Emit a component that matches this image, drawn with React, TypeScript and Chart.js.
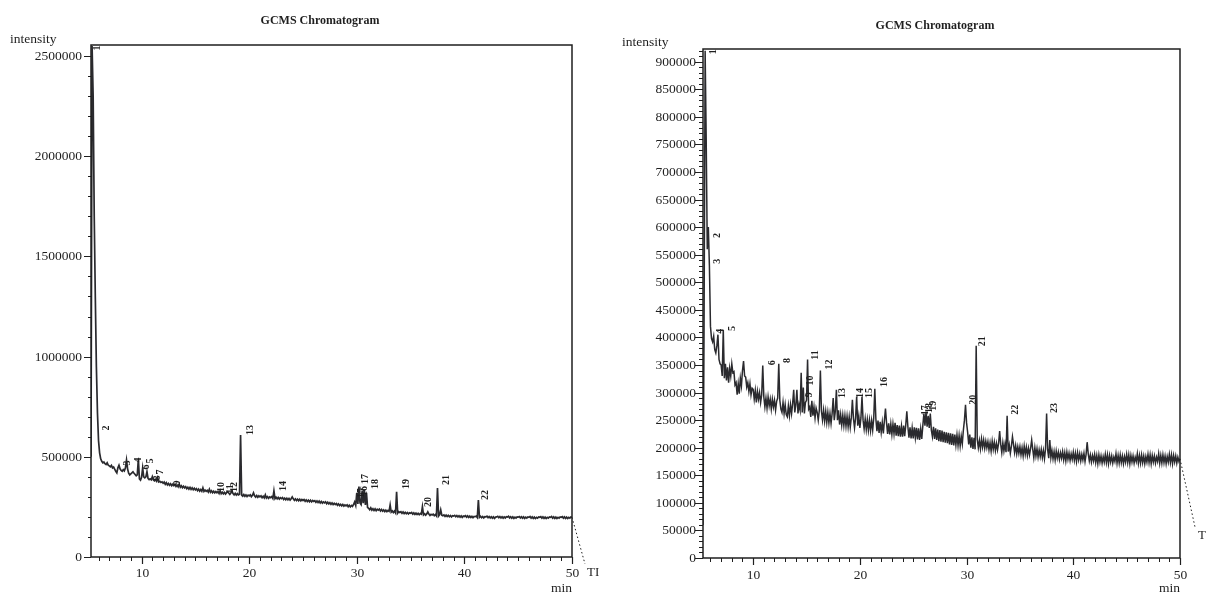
import React, { useEffect, useRef } from "react";
import { Chart, registerables } from "chart.js";
Chart.register(...registerables);

// ---- data (intensity in thousands, sampled every 0.1 min from 5.3 min) ----
const TRACE_START_MIN = 5.3;
const TRACE_STEP_MIN = 0.1;
const X_MIN = 5.3;
const X_MAX = 50;

const leftIntensityK = [
  500, 2550, 2300, 1700, 1300, 950, 720,
  580, 520, 490, 478, 470, 474, 466, 462, 470, 458,
  455, 450, 457, 445, 449, 438, 428, 420, 445, 458,
  440, 432, 428, 436, 430, 445, 484, 440, 418, 410,
  415, 420, 425, 418, 412, 405, 410, 487, 390, 384,
  398, 444, 400, 395, 400, 426, 392, 386, 390, 385,
  401, 384, 380, 386, 378, 395, 375, 378, 372, 375,
  368, 374, 363, 371, 360, 367, 358, 365, 356, 363,
  356, 362, 352, 359, 350, 364, 348, 355, 346, 353,
  345, 351, 341, 348, 339, 347, 337, 345, 336, 343,
  335, 341, 331, 339, 329, 337, 328, 345, 327, 334,
  328, 333, 324, 338, 323, 330, 321, 328, 320, 327,
  321, 326, 317, 332, 316, 323, 315, 322, 314, 321,
  326, 319, 312, 319, 330, 317, 310, 318, 309, 316,
  310, 313, 609, 309, 304, 312, 303, 310, 302, 309,
  305, 310, 301, 308, 320, 305, 299, 307, 298, 305,
  300, 305, 296, 303, 295, 310, 294, 301, 293, 300,
  296, 301, 292, 330, 291, 298, 290, 297, 289, 296,
  291, 296, 287, 294, 286, 293, 285, 292, 284, 291,
  300, 290, 283, 290, 282, 289, 281, 288, 280, 287,
  282, 287, 278, 285, 277, 284, 276, 283, 275, 282,
  277, 281, 273, 280, 272, 279, 270, 277, 269, 275,
  270, 275, 266, 273, 265, 271, 263, 270, 262, 268,
  262, 267, 258, 265, 257, 263, 255, 262, 254, 260,
  255, 260, 251, 258, 250, 257, 252, 262, 275, 258,
  320, 265, 351, 270, 262, 330, 268, 335, 260, 320,
  248, 243, 236, 245, 234, 241, 232, 240, 231, 238,
  234, 239, 230, 237, 229, 235, 227, 234, 226, 232,
  228, 260, 224, 230, 222, 229, 220, 326, 219, 226,
  222, 226, 218, 225, 217, 223, 216, 222, 215, 221,
  218, 222, 214, 220, 213, 219, 212, 218, 211, 217,
  214, 251, 210, 216, 209, 215, 225, 214, 207, 213,
  210, 214, 206, 212, 205, 344, 204, 211, 235, 209,
  206, 210, 203, 209, 202, 208, 201, 207, 200, 206,
  204, 208, 201, 207, 200, 206, 199, 205, 198, 204,
  202, 206, 199, 205, 198, 204, 197, 203, 196, 202,
  201, 204, 197, 284, 198, 203, 196, 202, 195, 201,
  200, 204, 196, 202, 195, 201, 194, 200, 193, 199,
  200, 203, 196, 202, 195, 201, 194, 200, 195, 201,
  199, 203, 195, 201, 194, 200, 193, 199, 194, 200,
  199, 202, 195, 201, 194, 200, 193, 199, 194, 200,
  198, 202, 194, 200, 193, 199, 192, 198, 194, 200,
  198, 201, 194, 200, 193, 199, 192, 198, 194, 200,
  198, 202, 194, 200, 193, 199, 192, 198, 194, 200,
  198, 201, 194, 200, 193, 199, 192, 198, 194, 200,
  198,
];

const rightIntensityK = [
  60, 420, 920, 760, 560, 600, 530,
  420, 398, 392, 402, 378, 372, 385, 405, 360, 352,
  350, 330, 414, 326, 352, 322, 346, 318, 344, 330,
  352, 336, 338, 314, 318, 296, 316, 298, 326, 312,
  340, 357, 330, 328, 310, 318, 302, 316, 296, 308,
  306, 288, 304, 282, 302, 288, 300, 282, 296, 349,
  292, 274, 290, 272, 292, 276, 288, 270, 288, 274,
  286, 268, 284, 290, 352, 286, 270, 264, 282, 262,
  278, 260, 256, 276, 258, 278, 262, 280, 305, 264,
  278, 305, 262, 278, 268, 336, 264, 309, 262, 282,
  286, 360, 270, 274, 256, 285, 258, 274, 254, 272,
  264, 250, 268, 340, 266, 250, 268, 248, 266, 246,
  264, 245, 262, 244, 262, 290, 250, 266, 305, 250,
  268, 242, 260, 241, 259, 240, 258, 239, 257, 238,
  256, 237, 255, 287, 253, 236, 254, 293, 240, 257,
  236, 254, 293, 250, 234, 252, 233, 251, 232, 250,
  231, 249, 232, 254, 307, 252, 230, 249, 227, 247,
  228, 246, 226, 249, 271, 245, 225, 244, 224, 243,
  224, 243, 225, 245, 222, 241, 221, 240, 220, 239,
  220, 240, 221, 241, 266, 238, 218, 237, 217, 236,
  217, 237, 218, 236, 215, 235, 214, 234, 216, 240,
  262, 240, 265, 238, 258, 236, 262, 232, 220, 238,
  216, 235, 214, 233, 212, 232, 211, 231, 210, 229,
  209, 228, 208, 227, 206, 226, 205, 225, 204, 224,
  205, 223, 204, 222, 203, 221, 207, 232, 250, 278,
  245, 228, 206, 224, 200, 219, 198, 218, 197, 385,
  215, 200, 213, 198, 216, 201, 214, 199, 212, 200,
  211, 196, 209, 194, 212, 197, 210, 195, 208, 196,
  208, 230, 206, 191, 209, 194, 207, 192, 258, 193,
  205, 190, 203, 220, 206, 191, 204, 189, 202, 190,
  202, 187, 200, 185, 203, 188, 201, 186, 199, 187,
  199, 214, 197, 182, 200, 185, 198, 183, 196, 184,
  197, 182, 195, 180, 198, 262, 196, 181, 214, 182,
  195, 180, 193, 178, 194, 181, 192, 179, 191, 181,
  193, 178, 191, 176, 192, 179, 190, 177, 189, 179,
  192, 177, 190, 175, 191, 178, 189, 176, 188, 178,
  190, 175, 188, 210, 189, 176, 187, 174, 186, 176,
  188, 173, 186, 171, 187, 174, 185, 172, 184, 174,
  188, 173, 187, 171, 186, 174, 185, 172, 183, 175,
  189, 172, 186, 172, 187, 173, 185, 171, 184, 174,
  188, 173, 187, 171, 186, 174, 185, 172, 183, 175,
  189, 172, 186, 172, 187, 173, 185, 171, 184, 174,
  188, 173, 187, 171, 186, 174, 185, 172, 183, 175,
  189, 172, 186, 172, 187, 173, 185, 171, 184, 174,
  188, 173, 187, 171, 186, 174, 185, 172, 183, 175,
  180,
];

const leftYTicks = [0, 500000, 1000000, 1500000, 2000000, 2500000];
const rightYTicks = [
  0, 50000, 100000, 150000, 200000, 250000, 300000, 350000, 400000, 450000,
  500000, 550000, 600000, 650000, 700000, 750000, 800000, 850000, 900000,
];
const xTicks = [10, 20, 30, 40, 50];

const leftPeakNames = ["1", "2", "3", "4", "5", "6", "7", "8", "9", "10", "11", "12", "13", "14", "15", "16", "17", "18", "19", "20", "21", "22"];
const leftPeakLabelTimes = [5.86, 6.7, 8.65, 9.67, 10.79, 10.42, 11.72, 11.44, 13.3, 17.4, 18.23, 18.6, 20.1, 23.16, 30.4, 30.7, 30.8, 31.7, 34.6, 36.7, 38.3, 42.0];
const leftPeakLabelIntensity = [2540000, 644000, 469000, 484000, 479000, 449000, 424000, 394000, 369000, 349000, 339000, 349000, 634000, 354000, 319000, 329000, 389000, 364000, 364000, 274000, 384000, 309000];

const rightPeakNames = ["1", "2", "3", "4", "5", "6", "8", "9", "10", "11", "12", "13", "14", "15", "16", "17", "18", "19", "20", "21", "22", "23"];
const rightPeakLabelTimes = [6.23, 6.63, 6.63, 6.94, 8.03, 11.78, 13.24, 15.3, 15.4, 15.83, 17.17, 18.33, 20.05, 20.9, 22.3, 26.1, 26.5, 26.9, 30.6, 31.44, 34.56, 38.2];
const rightPeakLabelIntensity = [918000, 585000, 538000, 411000, 416000, 354000, 358000, 296000, 322000, 368000, 351000, 299000, 299000, 299000, 319000, 268000, 272000, 276000, 287000, 393000, 269000, 272000];

const TITLE = "GCMS Chromatogram";
const Y_LABEL = "intensity";
const X_LABEL = "min";

// ---- styles ----
const INK = "#1f1f1f";
const LINE = "#2a2a2e";
const SERIF = "'Liberation Serif', 'DejaVu Serif', serif";

function toPoints(valuesK: number[]) {
  return valuesK.map((v, i) => ({
    x: Math.round((TRACE_START_MIN + i * TRACE_STEP_MIN) * 100) / 100,
    y: v * 1000,
  }));
}

function buildLabels(names: string[], times: number[], vals: number[]) {
  return names.map((n, i) => ({ text: n, t: times[i], v: vals[i] }));
}

type Decor = {
  padding: { left: number; right: number; top: number; bottom: number };
  yTicks: number[];
  yMinorStep: number;
  yMajorLen: number;
  yMinorLen: number;
  yLabelGap: number;
  xLabelOffset: number;
  title: { x: number; y: number };
  yTitle: { x: number; y: number };
  xTitleY: number;
  lineWidth: number;
  tic: { text: string; toX: number; toY: number; textX: number; textY: number };
};

function decorPlugin(d: Decor, labels: { text: string; t: number; v: number }[]) {
  return {
    id: "chromDecor",
    afterDraw(chart: any) {
      const { ctx, chartArea: a } = chart;
      const x = chart.scales.x;
      const y = chart.scales.y;
      ctx.save();
      ctx.strokeStyle = INK;
      ctx.fillStyle = INK;

      // frame
      ctx.lineWidth = 1.5;
      ctx.beginPath();
      ctx.moveTo(a.left, a.bottom);
      ctx.lineTo(a.left, a.top);
      ctx.lineTo(a.right, a.top);
      ctx.lineTo(a.right, a.bottom);
      ctx.closePath();
      ctx.stroke();

      // y minor ticks
      ctx.lineWidth = 1;
      ctx.beginPath();
      for (let v = 0; v <= y.max; v += d.yMinorStep) {
        const py = Math.round(y.getPixelForValue(v)) + 0.5;
        ctx.moveTo(a.left - d.yMinorLen, py);
        ctx.lineTo(a.left, py);
      }
      // x minor ticks
      for (let t = Math.ceil(x.min); t <= x.max; t += 1) {
        const px = Math.round(x.getPixelForValue(t)) + 0.5;
        ctx.moveTo(px, a.bottom);
        ctx.lineTo(px, a.bottom + 4);
      }
      ctx.stroke();

      // y major ticks + labels
      ctx.lineWidth = 1.2;
      ctx.font = `13.5px ${SERIF}`;
      ctx.textAlign = "right";
      ctx.textBaseline = "middle";
      ctx.beginPath();
      for (const v of d.yTicks) {
        const py = Math.round(y.getPixelForValue(v)) + 0.5;
        ctx.moveTo(a.left - d.yMajorLen, py);
        ctx.lineTo(a.left, py);
        ctx.fillText(String(v), a.left - d.yLabelGap, py);
      }
      // x major ticks + labels
      ctx.textAlign = "center";
      for (const t of xTicks) {
        const px = Math.round(x.getPixelForValue(t)) + 0.5;
        ctx.moveTo(px, a.bottom);
        ctx.lineTo(px, a.bottom + 7);
        ctx.fillText(String(t), px, a.bottom + d.xLabelOffset);
      }
      ctx.stroke();

      // axis titles
      ctx.textAlign = "left";
      ctx.fillText(Y_LABEL, d.yTitle.x, d.yTitle.y);
      ctx.textAlign = "right";
      ctx.fillText(X_LABEL, a.right, d.xTitleY);

      // chart title
      ctx.font = `bold 12px ${SERIF}`;
      ctx.textAlign = "center";
      ctx.fillText(TITLE, d.title.x, d.title.y);

      // TIC marker
      const ds = chart.data.datasets[0].data;
      const last = ds[ds.length - 1];
      const lx = x.getPixelForValue(last.x);
      const ly = y.getPixelForValue(last.y);
      ctx.lineWidth = 1;
      ctx.setLineDash([1.5, 2.5]);
      ctx.beginPath();
      ctx.moveTo(lx, ly);
      ctx.lineTo(d.tic.toX, d.tic.toY);
      ctx.stroke();
      ctx.setLineDash([]);
      ctx.font = `13px ${SERIF}`;
      ctx.textAlign = "left";
      ctx.fillText(d.tic.text, d.tic.textX, d.tic.textY);

      // peak labels (vertical)
      ctx.font = `bold 10px ${SERIF}`;
      ctx.textAlign = "center";
      ctx.textBaseline = "middle";
      for (const l of labels) {
        const px = x.getPixelForValue(l.t);
        const py = y.getPixelForValue(l.v);
        ctx.save();
        ctx.translate(px, py);
        ctx.rotate(-Math.PI / 2);
        ctx.fillText(l.text, 0, 0);
        ctx.restore();
      }
      ctx.restore();
    },
  };
}

function ChromChart(props: {
  valuesK: number[];
  yMax: number;
  labels: { text: string; t: number; v: number }[];
  decor: Decor;
}) {
  const ref = useRef<HTMLCanvasElement>(null);
  useEffect(() => {
    const chart = new Chart(ref.current as HTMLCanvasElement, {
      type: "line",
      data: {
        datasets: [
          {
            data: toPoints(props.valuesK),
            borderColor: LINE,
            borderWidth: props.decor.lineWidth,
            pointRadius: 0,
            tension: 0,
            fill: false,
          },
        ],
      },
      options: {
        responsive: false,
        maintainAspectRatio: false,
        animation: false,
        events: [],
        layout: { padding: props.decor.padding },
        plugins: {
          legend: { display: false },
          tooltip: { enabled: false },
          title: { display: false },
        },
        scales: {
          x: { type: "linear", min: X_MIN, max: X_MAX, display: false },
          y: { type: "linear", min: 0, max: props.yMax, display: false },
        },
      } as any,
      plugins: [decorPlugin(props.decor, props.labels)],
    });
    return () => chart.destroy();
  }, []);
  return (
    <canvas
      ref={ref}
      width={603}
      height={594}
      style={{ display: "block", width: 603, height: 594 }}
    />
  );
}

const leftDecor: Decor = {
  padding: { left: 91, right: 31, top: 45, bottom: 37 },
  yTicks: leftYTicks,
  yMinorStep: 100000,
  yMajorLen: 7,
  yMinorLen: 3,
  yLabelGap: 9,
  xLabelOffset: 16,
  title: { x: 320, y: 21 },
  yTitle: { x: 10, y: 39 },
  xTitleY: 588,
  lineWidth: 1.7,
  tic: { text: "TI", toX: 585, toY: 564, textX: 587, textY: 573 },
};

const rightDecor: Decor = {
  padding: { left: 100, right: 26, top: 49, bottom: 36 },
  yTicks: rightYTicks,
  yMinorStep: 10000,
  yMajorLen: 8,
  yMinorLen: 4,
  yLabelGap: 7,
  xLabelOffset: 17,
  title: { x: 332, y: 26 },
  yTitle: { x: 19, y: 42 },
  xTitleY: 588,
  lineWidth: 1.5,
  tic: { text: "T", toX: 592, toY: 527, textX: 595, textY: 536 },
};

export default function App() {
  return (
    <div
      style={{
        position: "fixed",
        left: 0,
        top: 0,
        width: 1206,
        height: 594,
        background: "#ffffff",
        display: "flex",
      }}
    >
      <ChromChart
        valuesK={leftIntensityK}
        yMax={2555000}
        labels={buildLabels(leftPeakNames, leftPeakLabelTimes, leftPeakLabelIntensity)}
        decor={leftDecor}
      />
      <ChromChart
        valuesK={rightIntensityK}
        yMax={923000}
        labels={buildLabels(rightPeakNames, rightPeakLabelTimes, rightPeakLabelIntensity)}
        decor={rightDecor}
      />
    </div>
  );
}
